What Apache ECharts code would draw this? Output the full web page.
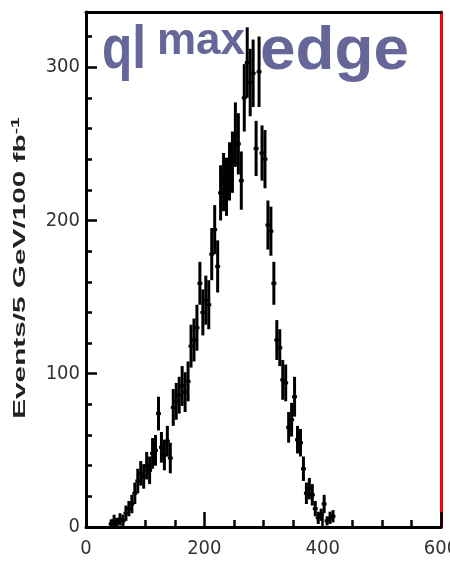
<!DOCTYPE html>
<html>
<head>
<meta charset="utf-8">
<script src="https://cdn.jsdelivr.net/npm/echarts@6/dist/echarts.min.js"></script>
<style>html,body{margin:0;padding:0;background:#fff;}#c{width:450px;height:564px;}</style>
</head>
<body>
<div id="c"></div>
<script>
// bin centres (GeV), 5 GeV bins
const binCenters = [42.5,47.5,52.5,57.5,62.5,67.5,72.5,77.5,82.5,87.5,92.5,97.5,102.5,107.5,112.5,117.5,122.5,127.5,132.5,137.5,142.5,147.5,152.5,157.5,162.5,167.5,172.5,177.5,182.5,187.5,192.5,197.5,202.5,207.5,212.5,217.5,222.5,227.5,232.5,237.5,242.5,247.5,252.5,257.5,262.5,267.5,272.5,277.5,282.5,287.5,292.5,297.5,302.5,307.5,312.5,317.5,322.5,327.5,332.5,337.5,342.5,347.5,352.5,357.5,362.5,367.5,372.5,377.5,382.5,387.5,392.5,397.5,402.5,407.5,412.5,417.5];
const counts = [2,4,3,5,4,9,12,15,22,30,35,33,40,37,48,50,74,52,47,56,45,78,82,86,92,88,95,118,122,130,159,140,148,145,178,194,170,218,225,222,232,238,256,250,226,280,303,290,296,247,297,244,240,197,193,159,122,117,96,94,65,70,85,57,55,38,22,25,21,12,6,8,15,4,6,7];
const errors = [3,4,3,4,4,5,5,6,7,8,8,8,9,9,10,10,11,10,10,10,10,12,12,12,13,13,13,14,14,15,14,15,16,16,17,16,17,18,19,19,19,20,21,20,19,22,23,22,22,18,23,18,19,16,16,14,13,12,13,12,10,11,13,9,9,8,7,7,7,5,4,4,6,3,4,4];
const binWidth = 5;
const xTicks = [0,200,400,600];
const yTicks = [0,100,200,300];
const xMax = 600, yMax = 336;
const yAxisTitle = 'Events/5 GeV/100 fb';
const yAxisTitleSup = '-1';

const data = binCenters.map((c,i)=>[c, counts[i], errors[i]]);
const labelFont = '"DejaVu Sans Condensed","Liberation Sans",sans-serif';

const chart = echarts.init(document.getElementById('c'), null, {renderer:'canvas'});
chart.setOption({
  backgroundColor:'#fff',
  animation:false,
  grid:{left:86, right:9, top:12, bottom:37, containLabel:false, outerBoundsMode:'none'},
  xAxis:[{
    type:'value', min:0, max:xMax, interval:200, position:'bottom',
    axisLine:{onZero:false, lineStyle:{color:'#000', width:3}},
    axisTick:{show:true, inside:true, length:15, lineStyle:{color:'#000', width:2.5}},
    minorTick:{show:true, splitNumber:4, length:7, lineStyle:{color:'#000', width:2.5}},
    splitLine:{show:false},
    axisLabel:{fontFamily:labelFont, fontSize:20, color:'#333', margin:12,
      formatter:v=>xTicks.includes(v)?String(v):''}
  },{
    type:'value', min:0, max:xMax, position:'top',
    axisLine:{onZero:false, lineStyle:{color:'#000', width:3}},
    axisTick:{show:false}, axisLabel:{show:false}, splitLine:{show:false}
  }],
  yAxis:[{
    type:'value', min:0, max:yMax, interval:100, position:'left',
    axisLine:{onZero:false, lineStyle:{color:'#000', width:3}},
    axisTick:{show:true, inside:true, length:11, lineStyle:{color:'#000', width:2.5}},
    splitLine:{show:false},
    axisLabel:{fontFamily:labelFont, fontSize:20, color:'#333', margin:6, showMaxLabel:false,
      formatter:v=>yTicks.includes(v)?String(v):''}
  },{
    type:'value', min:0, max:yMax, interval:20, position:'left',
    axisLine:{show:false, onZero:false},
    axisTick:{show:true, inside:true, length:6, lineStyle:{color:'#000', width:2.5}},
    axisLabel:{show:false}, splitLine:{show:false}
  },{
    type:'value', min:0, max:yMax, position:'right',
    axisLine:{onZero:false, lineStyle:{color:'#ff0000', width:3}},
    axisTick:{show:false}, axisLabel:{show:false}, splitLine:{show:false}
  }],
  graphic:[
    {type:'text', x:20, y:268, rotation:Math.PI/2, scaleX:1.75,
     style:{text:'{a|'+yAxisTitle+'}{b|'+yAxisTitleSup+'}', align:'center', verticalAlign:'middle',
       rich:{a:{fontFamily:'Liberation Sans', fontSize:17, fill:'#222', fontWeight:'bold'},
             b:{fontFamily:'Liberation Sans', fontSize:11, fill:'#222', fontWeight:'bold', verticalAlign:'top', padding:[0,0,9,0]}}}},
    {type:'text', x:102, y:20, scaleX:0.8, style:{text:'ql', fontFamily:'Liberation Sans', fontWeight:'bold', fontSize:62, fill:'#666699', verticalAlign:'top'}},
    {type:'text', x:157, y:20, style:{text:'max', fontFamily:'Liberation Sans', fontWeight:'bold', fontSize:44, fill:'#666699', verticalAlign:'top'}},
    {type:'text', x:260, y:21, scaleX:1.03, style:{text:'edge', fontFamily:'Liberation Sans', fontWeight:'bold', fontSize:62, fill:'#666699', verticalAlign:'top'}}
  ],
  series:[{
    type:'custom', xAxisIndex:0, yAxisIndex:0, clip:true, z:3,
    data:data,
    renderItem:function(params, api){
      const x = api.value(0), v = api.value(1), e = api.value(2);
      const top = api.coord([x, v+e]);
      const bot = api.coord([x, Math.max(v-e,0)]);
      const l = api.coord([x-binWidth/2, v]);
      const r = api.coord([x+binWidth/2, v]);
      return {type:'group', children:[
        {type:'line', shape:{x1:top[0],y1:top[1],x2:bot[0],y2:bot[1]}, style:{stroke:'#000', lineWidth:3}},
        {type:'line', shape:{x1:l[0]-1,y1:l[1],x2:r[0]+1,y2:r[1]}, style:{stroke:'#000', lineWidth:3}}
      ]};
    }
  }]
});
</script>
</body>
</html>
